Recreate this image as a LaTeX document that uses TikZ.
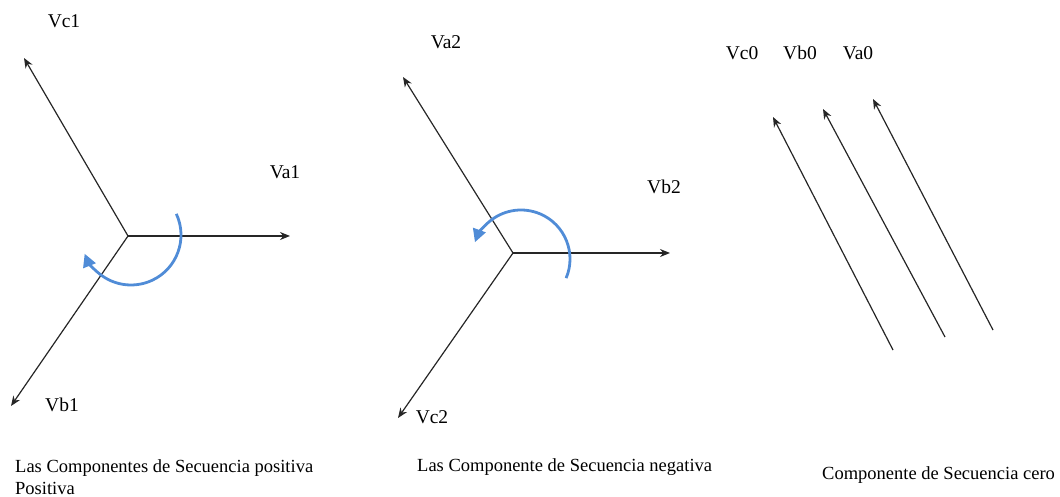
\documentclass[tikz,border=0pt]{standalone}
\usepackage{fontspec}
\setmainfont{Liberation Serif}
\usetikzlibrary{arrows.meta}
\begin{document}
\begin{tikzpicture}[x=1pt,y=1pt,
  vec/.style={draw=black!85, line width=1.2pt, -{Stealth[length=10pt,width=8pt]}},
  rot/.style={draw={rgb,255:red,80;green,140;blue,215}, line width=2.8pt, -{Triangle[length=13pt,width=13pt]}},
  lbl/.style={font=\fontsize{19.5}{22}\selectfont, inner sep=0pt},
  captxt/.style={font=\fontsize{18.5}{22}\selectfont, inner sep=0pt, anchor=west, align=left}]
\useasboundingbox (0,0) rectangle (1060,497);
% positive sequence
\coordinate (O1) at (128,261);
\coordinate (a1) at (290,261);
\coordinate (c1) at (24,439);
\coordinate (b1) at (11,91);
\draw[vec] (O1) -- (a1);
\draw[vec] (O1) -- (c1);
\draw[vec] (O1) -- (b1);
\node[lbl] (Lc1) at (64,476) {Vc1};
\node[lbl] (La1) at (285,325) {Va1};
\node[lbl] (Lb1) at (62,92) {Vb1};
\draw[rot] (131,262) ++(25:50) arc[start angle=25, end angle=-158, radius=50];
% negative sequence
\coordinate (O2) at (513,244);
\coordinate (b2) at (670,244);
\coordinate (a2) at (403,420);
\coordinate (c2) at (398,79);
\draw[vec] (O2) -- (b2);
\draw[vec] (O2) -- (a2);
\draw[vec] (O2) -- (c2);
\node[lbl] (La2) at (446,455) {Va2};
\node[lbl] (Lb2) at (664,310) {Vb2};
\node[lbl] (Lc2) at (432,80) {Vc2};
\draw[rot] (521,238) ++(-23:49) arc[start angle=-23, end angle=160, radius=49];
% zero sequence
\coordinate (s1) at (893,147);
\coordinate (t1) at (773,380);
\coordinate (s2) at (945,160);
\coordinate (t2) at (823,388);
\coordinate (s3) at (993,167);
\coordinate (t3) at (873,398);
\draw[vec] (s1) -- (t1);
\draw[vec] (s2) -- (t2);
\draw[vec] (s3) -- (t3);
\node[lbl] (Lc0) at (742,444) {Vc0};
\node[lbl] (Lb0) at (800,444) {Vb0};
\node[lbl] (La0) at (858,444) {Va0};
% captions
\node[captxt] (C1) at (15,20) {Las Componentes de Secuencia positiva\\Positiva};
\node[captxt] (C2) at (417,30) {Las Componente de Secuencia negativa};
\node[captxt] (C3) at (822,22) {Componente de Secuencia cero};
\end{tikzpicture}
\end{document}
